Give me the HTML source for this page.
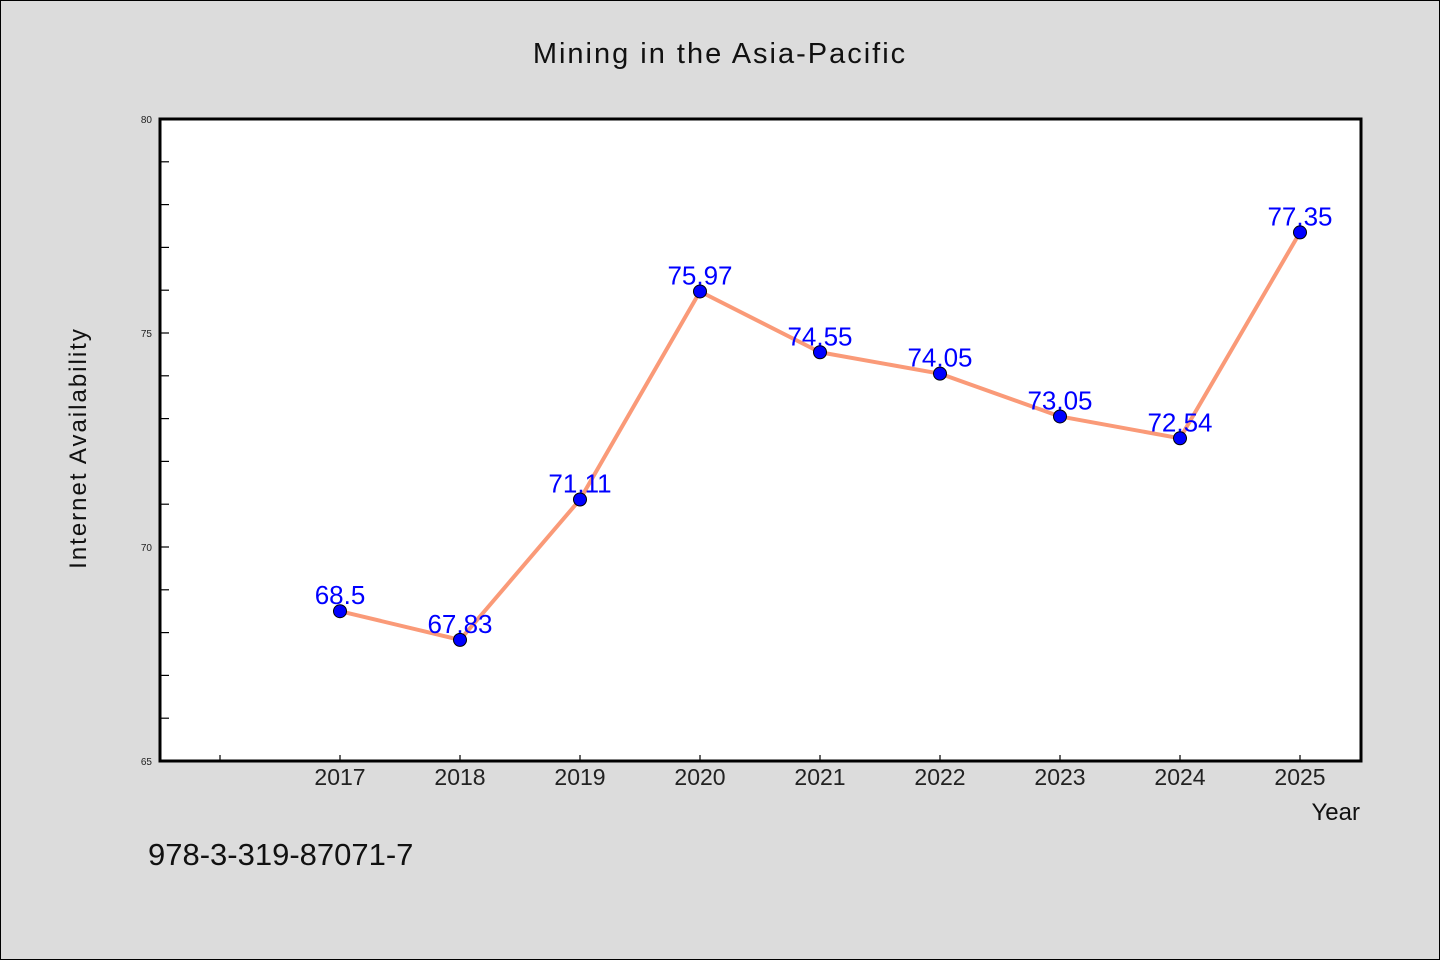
<!DOCTYPE html>
<html><head><meta charset="utf-8"><style>
html,body{margin:0;padding:0;background:#dcdcdc;}
svg{display:block;font-family:"WenQuanYi Zen Hei","Liberation Sans",sans-serif;}
</style></head><body>
<svg id="chart" width="1440" height="960" xmlns="http://www.w3.org/2000/svg">
<rect x="0.5" y="0.5" width="1439" height="959" fill="#dcdcdc" stroke="#000"/>
<text x="720" y="63" text-anchor="middle" font-size="29" letter-spacing="2" fill="#111">Mining in the Asia-Pacific</text>
<rect x="160" y="119" width="1201" height="642" fill="#fff"/>
<g id="axes"></g>
<g id="marks"></g>
<rect x="160" y="119" width="1201" height="642" fill="none" stroke="#000" stroke-width="3"/>
<text x="86" y="448" transform="rotate(-90 86 448)" text-anchor="middle" font-size="24" letter-spacing="2" fill="#111">Internet Availability</text>
<text x="1360" y="820" text-anchor="end" font-size="24" fill="#111">Year</text>
<text x="148" y="865" font-size="31" fill="#111">978-3-319-87071-7</text>
</svg>
<script>
const categories = ["2017","2018","2019","2020","2021","2022","2023","2024","2025"];
const values = [68.5,67.83,71.11,75.97,74.55,74.05,73.05,72.54,77.35];
const valueLabels = ["68.5","67.83","71.11","75.97","74.55","74.05","73.05","72.54","77.35"];
const yTicks = [65,70,75,80];
const yMin = 65, yMax = 80;
const NS = "http://www.w3.org/2000/svg";
const x = i => 340 + (i) * 120;
const y = v => 761 - (v - yMin) / (yMax - yMin) * 642;
const axes = document.getElementById('axes'), marks = document.getElementById('marks');
function mk(tag, attrs, parent){const e=document.createElementNS(NS,tag);for(const k in attrs)e.setAttribute(k,attrs[k]);parent.appendChild(e);return e;}
for(let v=yMin+1; v<yMax; v++){
  const t = mk('line',{x1:160,x2:169,y1:y(v),y2:y(v),stroke:'#000','stroke-width':1.2},axes);
  
  
}
yTicks.forEach(v=>{
  const t = mk('text',{x:152,y:y(v)+4,'text-anchor':'end','font-size':10,fill:'#222'},axes);
  t.textContent = v;
  
  
});
for(let i=-1;i<categories.length;i++){
  const t = mk('line',{x1:x(i),x2:x(i),y1:761,y2:755,stroke:'#000','stroke-width':1.2},axes);
  
  
}
categories.forEach((c,i)=>{
  const t = mk('text',{x:x(i),y:785,'text-anchor':'middle','font-size':23,fill:'#222'},axes);
  t.textContent = c;
  
  
});
const pl = mk('polyline',{points:values.map((v,i)=>x(i)+','+y(v)).join(' '),fill:'none',stroke:'#fa9a78','stroke-width':4,'stroke-linejoin':'round'},marks);


values.forEach((v,i)=>{
  const c = mk('circle',{cx:x(i),cy:y(v),r:6.5,fill:'#0000ff',stroke:'#000','stroke-width':1},marks);
  
  
  const t = mk('text',{x:x(i),y:y(v)-7,'text-anchor':'middle','font-size':26,fill:'#0000ff'},marks);
  t.textContent = valueLabels[i];
  
  
});
</script>
</body></html>
